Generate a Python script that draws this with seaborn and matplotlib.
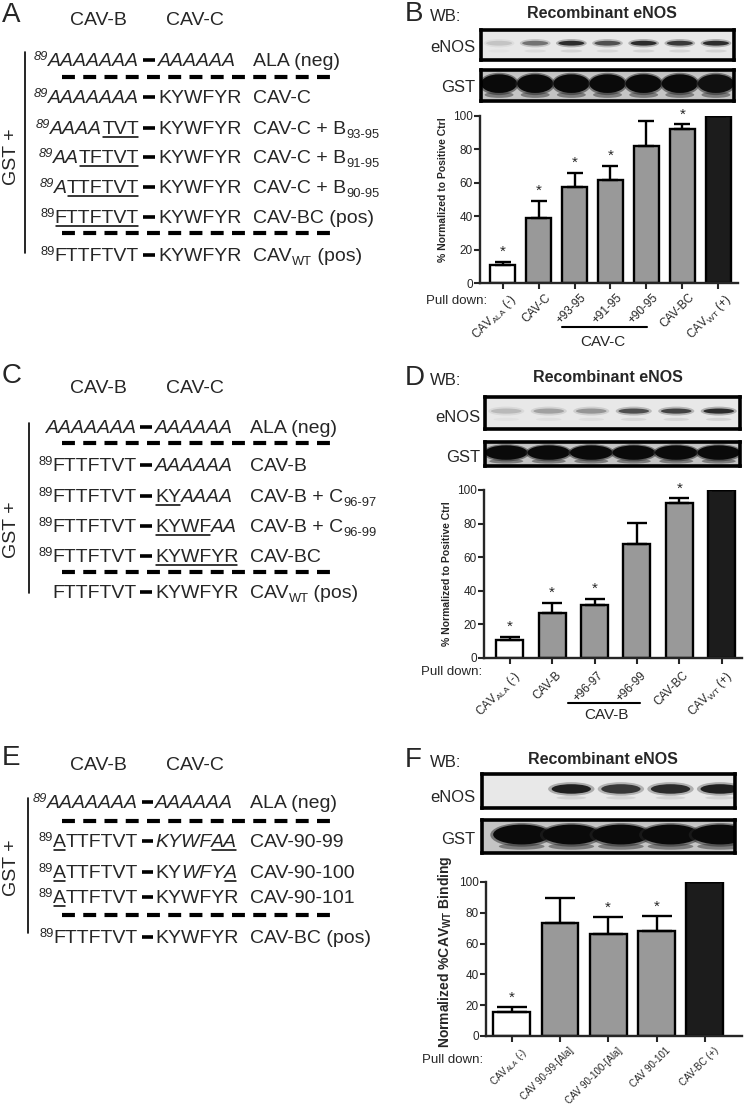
import numpy as np
import pandas as pd
import matplotlib
matplotlib.use('Agg')
import matplotlib.pyplot as plt
import matplotlib.transforms as mtransforms
from matplotlib.patches import Ellipse
import seaborn as sns

sns.set_style('ticks')
plt.rcParams['font.family'] = ['Liberation Sans', 'DejaVu Sans']
plt.rcParams['mathtext.fontset'] = 'custom'
plt.rcParams['mathtext.rm'] = 'Liberation Sans'
plt.rcParams['mathtext.it'] = 'Liberation Sans:italic'
plt.rcParams['mathtext.bf'] = 'Liberation Sans:bold'

W, H = 745, 1109

# ---- bar chart data ----
names_B = [r'CAV$_{\mathrm{ALA}}$ (-)', 'CAV-C', '+93-95', '+91-95', '+90-95', 'CAV-BC', r'CAV$_{\mathrm{WT}}$ (+)']
vals_B = [10.5, 39, 57.5, 61.5, 82, 92, 100]
errs_B = [2, 10, 8.5, 8.5, 15, 3, 0]
stars_B = [0, 1, 2, 3, 5]

names_D = [r'CAV$_{\mathrm{ALA}}$ (-)', 'CAV-B', '+96-97', '+96-99', 'CAV-BC', r'CAV$_{\mathrm{WT}}$ (+)']
vals_D = [10.5, 27, 31.5, 68, 92, 100]
errs_D = [2, 6, 3.5, 12.5, 3, 0]
stars_D = [0, 1, 2, 4]

names_F = [r'CAV$_{\mathrm{ALA}}$ (-)', 'CAV 90-99-[Ala]', 'CAV 90-100-[Ala]', 'CAV 90-101', 'CAV-BC (+)']
vals_F = [15.5, 73.5, 66, 68, 100]
errs_F = [3.5, 16, 11, 10, 0]
stars_F = [0, 2, 3]

# ---- western blot band intensities (0 = none, 1 = black) ----
enos_B = [0.25, 0.6, 0.9, 0.75, 0.9, 0.85, 0.9]
gst_B = [1, 1, 1, 1, 1, 1, 0.95]
enos_D = [0.3, 0.4, 0.45, 0.75, 0.8, 0.9]
gst_D = [1, 1, 1, 1, 1, 1]
enos_F = [0, 0.95, 0.85, 0.9, 0.95]
gst_F = [1, 1, 1, 1, 1]

# ---- sequence panels: (CAV-B part, CAV-C part, label) ----
rows_A = [
    ([('89', '^i'), ('AAAAAAA', 'i')], [('AAAAAA', 'i')], [('ALA (neg)', '')]),
    ([('89', '^i'), ('AAAAAAA', 'i')], [('KYWFYR', '')], [('CAV-C', '')]),
    ([('89', '^i'), ('AAAA', 'i'), ('TVT', 'u')], [('KYWFYR', '')], [('CAV-C + B', ''), ('93-95', '_')]),
    ([('89', '^i'), ('AA', 'i'), ('TFTVT', 'u')], [('KYWFYR', '')], [('CAV-C + B', ''), ('91-95', '_')]),
    ([('89', '^i'), ('A', 'i'), ('TTFTVT', 'u')], [('KYWFYR', '')], [('CAV-C + B', ''), ('90-95', '_')]),
    ([('89', '^'), ('FTTFTVT', 'u')], [('KYWFYR', '')], [('CAV-BC (pos)', '')]),
    ([('89', '^'), ('FTTFTVT', '')], [('KYWFYR', '')], [('CAV', ''), ('WT', '_'), (' (pos)', '')]),
]
rows_C = [
    ([('AAAAAAA', 'i')], [('AAAAAA', 'i')], [('ALA (neg)', '')]),
    ([('89', '^'), ('FTTFTVT', '')], [('AAAAAA', 'i')], [('CAV-B', '')]),
    ([('89', '^'), ('FTTFTVT', '')], [('KY', 'u'), ('AAAA', 'i')], [('CAV-B + C', ''), ('96-97', '_')]),
    ([('89', '^'), ('FTTFTVT', '')], [('KYWF', 'u'), ('AA', 'i')], [('CAV-B + C', ''), ('96-99', '_')]),
    ([('89', '^'), ('FTTFTVT', '')], [('KYWFYR', 'u')], [('CAV-BC', '')]),
    ([('FTTFTVT', '')], [('KYWFYR', '')], [('CAV', ''), ('WT', '_'), (' (pos)', '')]),
]
rows_E = [
    ([('89', '^i'), ('AAAAAAA', 'i')], [('AAAAAA', 'i')], [('ALA (neg)', '')]),
    ([('89', '^'), ('A', 'u'), ('TTFTVT', '')], [('KYWF', 'i'), ('AA', 'iu')], [('CAV-90-99', '')]),
    ([('89', '^'), ('A', 'u'), ('TTFTVT', '')], [('KY', ''), ('WFY', 'i'), ('A', 'iu')], [('CAV-90-100', '')]),
    ([('89', '^'), ('A', 'u'), ('TTFTVT', '')], [('KYWFYR', '')], [('CAV-90-101', '')]),
    ([('89', '^'), ('FTTFTVT', '')], [('KYWFYR', '')], [('CAV-BC (pos)', '')]),
]

fig = plt.figure(figsize=(W / 100, H / 100), dpi=100)
bg = fig.add_axes([0, 0, 1, 1])
bg.set_xlim(0, W)
bg.set_ylim(H, 0)
bg.axis('off')
renderer = fig.canvas.get_renderer()


def place_parts(parts, x, y, right=False, fs=14):
    objs = []
    for txt, st in parts:
        size = fs * 0.66 if ('^' in st or '_' in st) else fs
        dy = -6 if '^' in st else (4 if '_' in st else 0)
        t = bg.text(0, y + dy, txt, fontsize=size, va='baseline', ha='left',
                    style='italic' if 'i' in st else 'normal')
        w = t.get_window_extent(renderer).width
        objs.append((t, w, st))
    total = sum(o[1] for o in objs)
    cur = x - total if right else x
    for t, w, st in objs:
        t.set_x(cur)
        if 'u' in st:
            bg.plot([cur + 1, cur + w - 1], [y + 3, y + 3], color='black', lw=1.1)
        cur += w
    return cur


def seq_panel(letter, ly, head_y, rows, base_y, dash_rows, vline, gst_y, b_end, dash, c_start, lab_x):
    bg.text(2, ly, letter, fontsize=20, va='baseline', ha='left')
    bg.text(98, head_y, 'CAV-B', fontsize=14, va='baseline', ha='center')
    bg.text(195, head_y, 'CAV-C', fontsize=14, va='baseline', ha='center')
    bg.plot([vline[0], vline[0]], [vline[1], vline[2]], color='black', lw=1.2)
    bg.text(12, gst_y, 'GST +', fontsize=14, rotation=90, va='center', ha='center')
    for (bpart, cpart, lab), y in zip(rows, base_y):
        place_parts(bpart, b_end, y, right=True)
        bg.plot(dash, [y - 6, y - 6], color='black', lw=2.6, solid_capstyle='butt')
        place_parts(cpart, c_start, y)
        place_parts(lab, lab_x, y)
    for y in dash_rows:
        bg.plot([62, 331], [y, y], color='black', lw=3, ls=(0, (3.1, 2.0)), dash_capstyle='butt')


seq_panel('A', 22, 25, rows_A, [66, 103, 134, 163, 193, 223, 261], [77, 233],
          (25, 52, 253), 157, 139, (143, 155), 158, 253)
seq_panel('C', 383, 393, rows_C, [433, 471, 502, 532, 562, 598], [443, 572],
          (29, 423, 593), 530, 137, (140, 152), 155, 250)
seq_panel('E', 765, 770, rows_E, [808, 847, 878, 903, 943], [821, 915],
          (28, 798, 933), 868, 138, (142, 153), 155, 250)


def rect(left, top, right, bottom):
    return [left / W, (H - bottom) / H, (right - left) / W, (bottom - top) / H]


def blot(r, levels, kind, xlim=None, spread=1.0, band_h=0.18):
    ax = fig.add_axes(r)
    n = len(levels)
    ax.set_xlim(xlim if xlim else (-0.5, n - 0.5))
    ax.set_ylim(0, 1)
    ax.set_facecolor('#e8e8e8' if kind == 'enos' else '#c4c4c4')
    ax.set_xticks([])
    ax.set_yticks([])
    for s in ax.spines.values():
        s.set_linewidth(2.6)
        s.set_color('black')
    for i, lv in enumerate(levels):
        if lv <= 0:
            continue
        g = 1 - lv * 0.92
        if kind == 'enos':
            ax.add_patch(Ellipse((i, 0.56), 0.85 * spread, band_h + 0.12, color=str(g), alpha=0.3, lw=0))
            ax.add_patch(Ellipse((i, 0.56), 0.72 * spread, band_h, color=str(g), lw=0))
            ax.add_patch(Ellipse((i, 0.3), 0.6, 0.1, color='0.7', alpha=0.4 * lv, lw=0))
        else:
            ax.add_patch(Ellipse((i, 0.2), 0.8 * spread, 0.2, color='0.3', alpha=0.6, lw=0))
            ax.add_patch(Ellipse((i, 0.55), 1.1 * spread, 0.72, color='0.15', alpha=0.5, lw=0))
            ax.add_patch(Ellipse((i, 0.56), 1.0 * spread, 0.6, color=str(g * 0.5), lw=0))
    return ax


def bar_panel(r, names, vals, errs, stars, xlim, width, ylabel, ylab_pos,
              tick_fs, ylab_fs, cap, dx, pad):
    ax = fig.add_axes(r)
    colors = ['white'] + ['#999999'] * (len(vals) - 2) + ['#1c1c1c']
    df = pd.DataFrame({'pull': names, 'pct': vals})
    sns.barplot(data=df, x='pull', y='pct', hue='pull', palette=colors, legend=False,
                width=width, saturation=1, edgecolor='black', linewidth=1.7, ax=ax)
    lanes = np.arange(len(vals))
    ax.errorbar(lanes, vals, yerr=[np.zeros(len(vals)), errs], fmt='none', ecolor='black',
                elinewidth=1.7, capsize=cap, capthick=1.7, zorder=1)
    for i in stars:
        ax.text(i, vals[i] + errs[i] + 6, '*', ha='center', va='center', fontsize=11)
    ax.set_xlim(*xlim)
    ax.set_ylim(0, 100)
    ax.set_yticks(range(0, 101, 20))
    ax.set_xlabel('')
    ax.set_ylabel(ylabel, fontsize=ylab_fs, fontweight='bold')
    ax.yaxis.set_label_coords(*ylab_pos)
    sns.despine(ax=ax)
    for s in ['left', 'bottom']:
        ax.spines[s].set_linewidth(1.7)
    ax.tick_params(axis='y', length=4, width=1.5, labelsize=8.5, pad=1)
    ax.tick_params(axis='x', length=4, width=1.5, labelsize=tick_fs, pad=pad)
    ax.set_xticks(lanes)
    ax.set_xticklabels(names, rotation=45, ha='right', rotation_mode='anchor')
    off = mtransforms.ScaledTranslation(dx / 100, 0, fig.dpi_scale_trans)
    for lab in ax.get_xticklabels():
        lab.set_transform(lab.get_transform() + off)
    ax.patch.set_alpha(0)
    return ax


def wb_header(letter, y, title_x):
    bg.text(405, y, letter, fontsize=20, va='baseline', ha='left')
    bg.text(430, y, 'WB:', fontsize=12, va='baseline', ha='left')
    bg.text(title_x, y - 3, 'Recombinant eNOS', fontsize=11.5, fontweight='bold',
            va='baseline', ha='center')


# ---- panel B ----
wb_header('B', 21, 602)
bg.text(475, 52, 'eNOS', fontsize=12, va='baseline', ha='right')
bg.text(475, 92, 'GST', fontsize=12, va='baseline', ha='right')
blot(rect(481, 30, 734, 60), enos_B, 'enos', band_h=0.16)
blot(rect(481, 70, 734, 101), gst_B, 'gst')
axB = bar_panel(rect(480, 116, 738, 283), names_B, vals_B, errs_B, stars_B,
                (-0.63, 6.55), 0.69, '% Normalized to Positive Ctrl', (-0.124, 0.56),
                8.5, 7.5, 6, 6, 2)
bg.text(487, 304, 'Pull down:', fontsize=9.5, va='baseline', ha='right')
trB = mtransforms.blended_transform_factory(axB.transData, axB.transAxes)
axB.plot([1.64, 4.01], [-0.265, -0.265], color='black', lw=1.5, transform=trB, clip_on=False)
axB.text(2.8, -0.355, 'CAV-C', fontsize=11, ha='center', va='center', transform=trB)

# ---- panel D ----
wb_header('D', 385, 608)
bg.text(480, 422, 'eNOS', fontsize=12, va='baseline', ha='right')
bg.text(480, 462, 'GST', fontsize=12, va='baseline', ha='right')
blot(rect(485, 397, 740, 429), enos_D, 'enos', band_h=0.16)
blot(rect(485, 442, 740, 466), gst_D, 'gst')
axD = bar_panel(rect(484, 490, 742, 658), names_D, vals_D, errs_D, stars_D,
                (-0.61, 5.48), 0.64, '% Normalized to Positive Ctrl', (-0.124, 0.5),
                8.5, 7.5, 7, 3, 4)
bg.text(482, 675, 'Pull down:', fontsize=9.5, va='baseline', ha='right')
trD = mtransforms.blended_transform_factory(axD.transData, axD.transAxes)
axD.plot([1.37, 3.07], [-0.265, -0.265], color='black', lw=1.5, transform=trD, clip_on=False)
axD.text(2.27, -0.34, 'CAV-B', fontsize=11, ha='center', va='center', transform=trD)

# ---- panel F ----
wb_header('F', 767, 603)
bg.text(475, 802, 'eNOS', fontsize=12, va='baseline', ha='right')
bg.text(475, 844, 'GST', fontsize=12, va='baseline', ha='right')
blot(rect(482, 774, 735, 808), enos_F, 'enos', xlim=(-0.8, 4.3), spread=1.1, band_h=0.28)
blot(rect(482, 820, 735, 853), gst_F, 'gst', xlim=(-0.8, 4.3), spread=1.15)
axF = bar_panel(rect(486, 882, 742, 1036), names_F, vals_F, errs_F, stars_F,
                (-0.53, 4.77), 0.76, r'Normalized %CAV$_{\mathbf{WT}}$ Binding', (-0.125, 0.55),
                7, 10, 11, 9, 3)
bg.text(483, 1063, 'Pull down:', fontsize=9.5, va='baseline', ha='right')

fig.savefig('out.png', dpi=100)
